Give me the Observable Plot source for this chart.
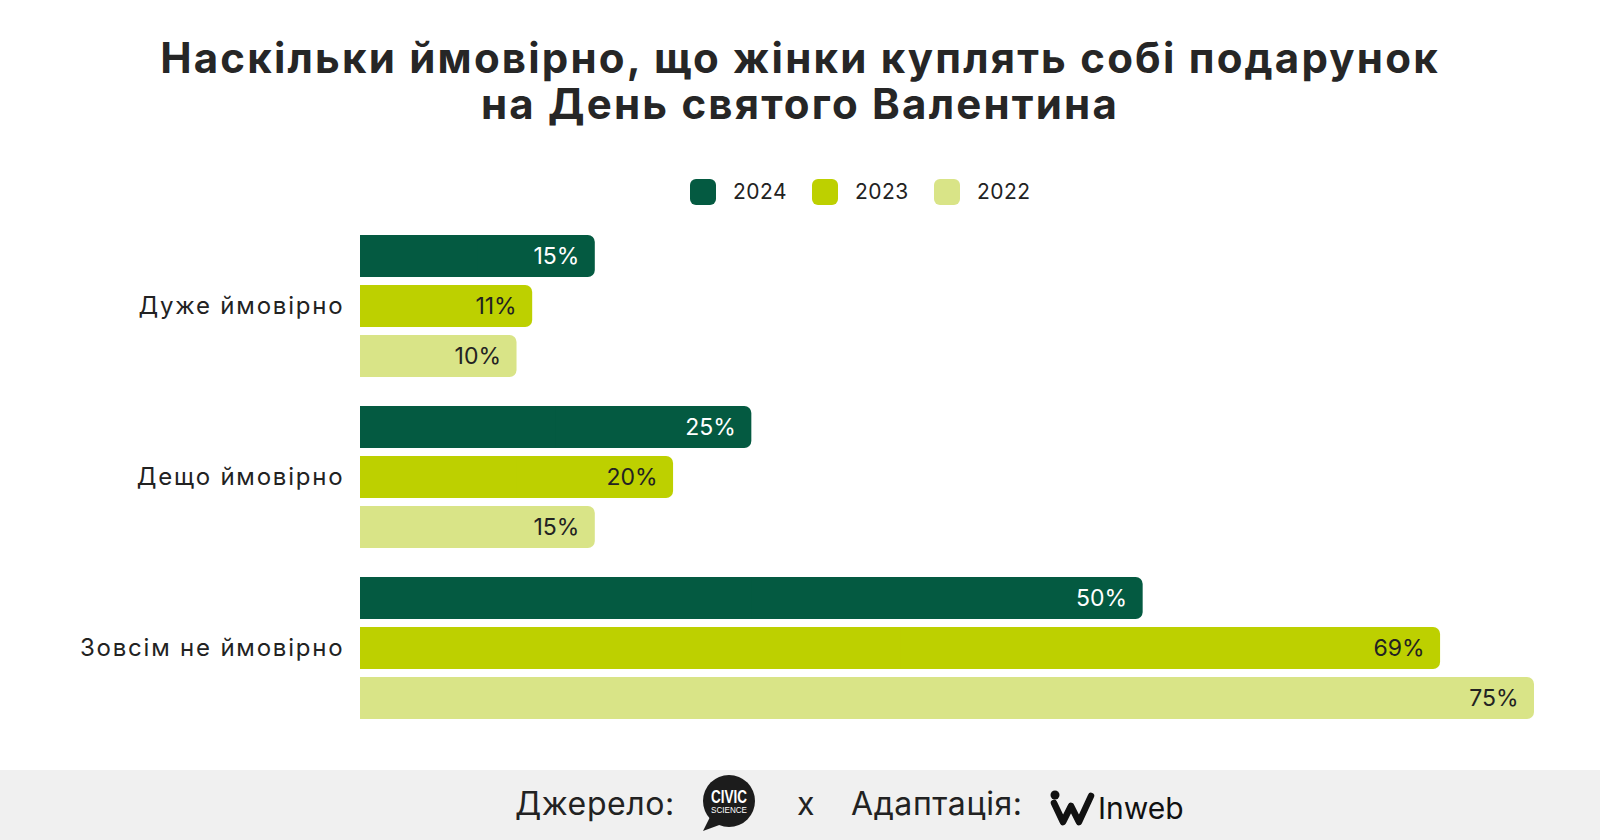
<!DOCTYPE html>
<html><head><meta charset="utf-8">
<script src="https://cdn.jsdelivr.net/npm/d3@7"></script>
<script src="https://cdn.jsdelivr.net/npm/@observablehq/plot@0.6"></script>
<style>
body{margin:0;background:#fff;font-family:Inter,"Noto Sans",sans-serif;color:#222;}
#page{width:1600px;height:840px;position:relative;overflow:hidden;}
#title{height:160px;box-sizing:border-box;padding-top:35px;margin:0;text-align:center;font-size:42px;font-weight:700;line-height:46px;letter-spacing:2.2px;color:#262626;}
#legend{position:relative;height:55px;}
.sw{position:absolute;top:19px;width:26px;height:26px;border-radius:6px;}
.lab{position:absolute;top:17px;font-size:21px;line-height:30px;color:#222;letter-spacing:0.5px;}
#chart{height:555px;}
#chart svg{display:block;}
#footer{position:absolute;top:770px;left:0;width:1600px;height:70px;background:#f0f0f0;}
.ft{position:absolute;top:0;line-height:68px;font-size:32px;letter-spacing:0.6px;color:#222;white-space:nowrap;}
.logo{position:absolute;}
</style></head>
<body><div id="page">
<h1 id="title">Наскільки ймовірно, що жінки куплять собі подарунок<br>на День святого Валентина</h1>
<div id="legend"></div>
<div id="chart"></div>
<div id="footer">
  <span class="ft" style="left:515px">Джерело:</span>
  <svg class="logo" style="left:698px;top:3px" width="62" height="62" viewBox="0 0 62 62">
    <path d="M12 44 L5 58 L24 51 Z" fill="#1c1c1c"/>
    <circle cx="31" cy="28" r="26" fill="#1c1c1c"/>
    <text x="31" y="30" text-anchor="middle" fill="#fff" font-family="Liberation Sans, Arial" font-weight="700" font-size="18" textLength="36" lengthAdjust="spacingAndGlyphs">CIVIC</text>
    <text x="31" y="40" text-anchor="middle" fill="#fff" font-family="Liberation Sans, Arial" font-size="8.5" textLength="36" lengthAdjust="spacingAndGlyphs">SCIENCE</text>
  </svg>
  <span class="ft" style="left:797px">x</span>
  <span class="ft" style="left:851px">Адаптація:</span>
  <svg class="logo" style="left:1046px;top:14px" width="145" height="44" viewBox="0 0 145 44">
    <circle cx="9" cy="11" r="4.5" fill="#111"/>
    <path d="M8 19 L17 38 L25 22 L33 38 L45 12" fill="none" stroke="#111" stroke-width="6.5" stroke-linejoin="round" stroke-linecap="round"/>
    <text x="52" y="35" font-family="Inter, sans-serif" font-size="30" fill="#111">Inweb</text>
  </svg>
</div>
</div>
<script>
const categories = ["Дуже ймовірно", "Дещо ймовірно", "Зовсім не ймовірно"];
const years = ["2024", "2023", "2022"];
const colors = ["#045a41", "#bdd000", "#d9e487"];
const values2024 = [15, 25, 50];
const values2023 = [11, 20, 69];
const values2022 = [10, 15, 75];
const legendLeft = [690, 812, 934];

const series = {"2024": values2024, "2023": values2023, "2022": values2022};
const data = [];
categories.forEach((c, i) => years.forEach(y => data.push({category: c, year: y, value: series[y][i]})));

// legend
const legend = document.getElementById("legend");
years.forEach((y, i) => {
  const sw = document.createElement("div");
  sw.className = "sw"; sw.style.left = legendLeft[i] + "px"; sw.style.background = colors[i];
  const lb = document.createElement("div");
  lb.className = "lab"; lb.style.left = (legendLeft[i] + 43) + "px"; lb.textContent = y;
  legend.appendChild(sw); legend.appendChild(lb);
});

const chart = Plot.plot({
  width: 1600, height: 555,
  marginLeft: 360, marginRight: 66, marginTop: 19, marginBottom: 51,
  style: {fontFamily: "Inter, 'Noto Sans', sans-serif", background: "transparent"},
  x: {domain: [0, 75], axis: null},
  y: {domain: years, paddingInner: 0.17, paddingOuter: 0, axis: null},
  fy: {domain: categories, paddingInner: 0.17, paddingOuter: 0},
  color: {domain: years, range: colors},
  marks: [
    Plot.barX(data, {x1: d => 0, x2: "value", y: "year", fy: "category", fill: "year", rx: 7}),
    Plot.barX(data, {x1: d => 0, x2: d => d.value / 2, y: "year", fy: "category", fill: "year"}),
    Plot.text(data, {filter: d => d.year === "2024", x: "value", y: "year", fy: "category",
      text: d => d.value + "%", textAnchor: "end", dx: -16, fill: "white", fontSize: 23}),
    Plot.text(data, {filter: d => d.year !== "2024", x: "value", y: "year", fy: "category",
      text: d => d.value + "%", textAnchor: "end", dx: -16, fill: "#222", fontSize: 23}),
    Plot.axisFy({anchor: "left", tickSize: 0, tickPadding: 16, fontSize: 24, fill: "#222", label: null})
  ]
});
d3.select(chart).selectAll("g[aria-label='fy-axis tick label'] text").style("letter-spacing", "1.8px");
document.getElementById("chart").appendChild(chart);
</script>
</body></html>
